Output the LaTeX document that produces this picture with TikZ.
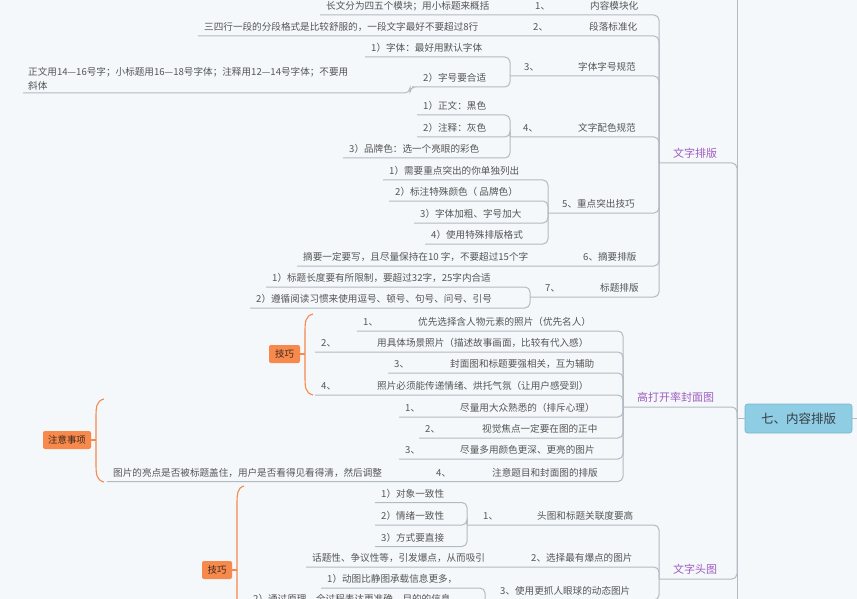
\documentclass[tikz,border=0pt]{standalone}
\usepackage{fontspec}
\newfontfamily\cjk{Noto Sans CJK SC}
\definecolor{bgc}{RGB}{244,248,251}
\definecolor{linec}{RGB}{178,186,194}
\definecolor{txt}{RGB}{85,85,85}
\definecolor{purp}{RGB}{160,92,190}
\definecolor{orng}{RGB}{246,137,75}
\definecolor{boxtxt}{RGB}{60,40,30}
\definecolor{rootfill}{RGB}{142,205,228}
\definecolor{rootdraw}{RGB}{118,182,208}
\definecolor{roottxt}{RGB}{55,60,65}
\newcommand\pfx[2]{\makebox[#1][l]{#2}}
\begin{document}
\begin{tikzpicture}[x=1pt,y=-1pt,
  t/.style={font=\cjk\fontsize{9.6}{11}\selectfont, text=txt, inner xsep=6pt, inner ysep=3.8pt, text height=8.4pt, text depth=1.2pt, anchor=south west},
  ttwo/.style={font=\cjk\fontsize{9.6}{14}\selectfont, text=txt, inner xsep=5pt, inner ysep=2.8pt, align=left, anchor=south west},
  lab/.style={font=\cjk\fontsize{11}{13}\selectfont, text=purp, inner xsep=6pt, inner ysep=3.8pt, text height=9.6pt, text depth=1.4pt, anchor=south west},
  conn/.style={draw=linec, line width=1pt, rounded corners=5pt},
  brace/.style={draw=orng, line width=1.1pt},
  sumbox/.style={fill=orng, rounded corners=2pt, font=\cjk\fontsize{9.4}{11}\selectfont, text=boxtxt, minimum height=18pt, inner sep=0pt},
  rootbox/.style={fill=rootfill, draw=rootdraw, line width=0.6pt, rounded corners=2.5pt, minimum width=107pt, minimum height=29pt, font=\cjk\fontsize{12.5}{14}\selectfont, text=roottxt}
]
\useasboundingbox (0,0) rectangle (857,599);
\clip (0,0) rectangle (857,599);
\fill[bgc] (0,0) rectangle (857,599);

% root
\coordinate (top) at (737,0);
\coordinate (bot) at (737,599);
\coordinate (rj) at (737,418.5);
\coordinate (rr) at (857,418.5);
\node[rootbox] (root) at (798.5,418.5) {七、内容排版};
\draw[conn] (top) -- (bot);
\draw[conn] (root.west) -- (rj);
\draw[conn] (root.east) -- (rr);

% ===== branch 1 =====
\coordinate (b1j) at (659,163);
\node[lab] (b1) at (667,163) {文字排版};
\draw[conn] (rj) |- (b1j);

\node[t] (c1) at (529,15) {\pfx{55pt}{1、}内容模块化};
\node[t] (g11) at (320,15) {长文分为四五个模块；用小标题来概括};
\draw[conn] (b1j) |- (g11.south west);

\node[t] (c2) at (527,36) {\pfx{56pt}{2、}段落标准化};
\node[t] (g21) at (198,36) {三四行一段的分段格式是比较舒服的，一段文字最好不要超过8行};
\draw[conn] (b1j) |- (g21.south west);

\coordinate (c3j) at (510,76);
\node[t] (c3) at (518,76) {\pfx{54pt}{3、}字体字号规范};
\node[t] (g31) at (365,57) {1）字体：最好用默认字体};
\node[t] (g32) at (417,87) {2）字号要合适};
\node[ttwo] (g321) at (23,93) {正文用14—16号字；小标题用16—18号字体；注释用12—14号字体；不要用\\斜体};
\draw[conn] (b1j) |- (c3j);
\draw[conn] (c3j) |- (g31.south west);
\draw[conn] (c3j) |- (g32.south west) -- ++(-7,0) |- (g321.south west);

\coordinate (c4j) at (510,137);
\node[t] (c4) at (517,137) {\pfx{55pt}{4、}文字配色规范};
\node[t] (g41) at (417,115) {1）正文：黑色};
\node[t] (g42) at (417,137) {2）注释：灰色};
\node[t] (g43) at (343,158) {3）品牌色：选一个亮眼的彩色};
\draw[conn] (b1j) |- (c4j);
\draw[conn] (c4j) |- (g41.south west);
\draw[conn] (c4j) |- (g42.south west);
\draw[conn] (c4j) |- (g43.south west);

\coordinate (c5j) at (548,213);
\node[t] (c5) at (556,213) {5、重点突出技巧};
\node[t] (g51) at (383,180) {1）需要重点突出的你单独列出};
\node[t] (g52) at (389,201) {2）标注特殊颜色（ 品牌色）};
\node[t] (g53) at (414,223) {3）字体加粗、字号加大};
\node[t] (g54) at (425,244) {4）使用特殊排版格式};
\draw[conn] (b1j) |- (c5j);
\draw[conn] (c5j) |- (g51.south west);
\draw[conn] (c5j) |- (g52.south west);
\draw[conn] (c5j) |- (g53.south west);
\draw[conn] (c5j) |- (g54.south west);

\node[t] (c6) at (577,266) {6、摘要排版};
\node[t] (g61) at (297,266) {摘要一定要写，且尽量保持在10 字，不要超过15个字};
\draw[conn] (b1j) |- (g61.south west);

\coordinate (c7j) at (530,297);
\node[t] (c7) at (539,297) {\pfx{55pt}{7、}标题排版};
\node[t] (g71) at (266,287) {1）标题长度要有所限制，要超过32字，25字内合适};
\node[t] (g72) at (250,308) {2）遵循阅读习惯来使用逗号、顿号、句号、问号、引号};
\draw[conn] (b1j) |- (c7j);
\draw[conn] (c7j) |- (g71.south west);
\draw[conn] (c7j) |- (g72.south west);

% ===== branch 2 =====
\coordinate (b2j) at (623,407);
\node[lab] (b2) at (631,407) {高打开率封面图};
\draw[conn] (rj) |- (b2j);

\node[t] (k1) at (357,331) {\pfx{55pt}{1、}优先选择含人物元素的照片（优先名人）};
\node[t] (k2) at (315,352) {\pfx{56pt}{2、}用具体场景照片（描述故事画面，比较有代入感）};
\node[t] (k3) at (388,373) {\pfx{56pt}{3、}封面图和标题要强相关，互为辅助};
\node[t] (k4) at (315,395) {\pfx{56pt}{4、}照片必须能传递情绪、烘托气氛（让用户感受到）};
\node[t] (k5) at (399,417) {\pfx{55pt}{1、}尽量用大众熟悉的（排斥心理）};
\node[t] (k6) at (419,438) {\pfx{57pt}{2、}视觉焦点一定要在图的正中};
\node[t] (k7) at (399,459) {\pfx{55pt}{3、}尽量多用颜色更深、更亮的图片};
\node[t] (k8) at (430,481.5) {\pfx{56pt}{4、}注意题目和封面图的排版};
\node[t] (k81) at (107,481.5) {图片的亮点是否被标题盖住，用户是否看得见看得清，然后调整};
\foreach \k in {k1,k2,k3,k4,k5,k6,k7,k81}{\draw[conn] (b2j) |- (\k.south west);}

% summaries
\node[sumbox, minimum width=31pt] (s1) at (284.5,354) {技巧};
\draw[brace] (313,314) .. controls (305,316) and (305,322) .. (305,334) -- (305,375) .. controls (305,387) and (305,393) .. (313,395);
\draw[brace] (s1.east) -- (305,354);

\node[sumbox, minimum width=48pt] (s2) at (67,440) {注意事项};
\draw[brace] (104,399) .. controls (96,401) and (96,407) .. (96,419) -- (96,462) .. controls (96,474) and (96,480) .. (104,482);
\draw[brace] (s2.east) -- (96,440);

\node[sumbox, minimum width=30pt] (s3) at (217,570) {技巧};
\draw[brace] (244,486) .. controls (237,488) and (237,494) .. (237,506) -- (237,640);
\draw[brace] (s3.east) -- (237,570);

% ===== branch 3 =====
\coordinate (b3j) at (659,579);
\node[lab] (b3) at (667,579) {文字头图};
\draw[conn] (rj) |- (b3j);

\coordinate (t1j) at (467,525);
\node[t] (t1) at (477,525) {\pfx{54pt}{1、}头图和标题关联度要高};
\node[t] (h1) at (375,502.5) {1）对象一致性};
\node[t] (h2) at (375,525) {2）情绪一致性};
\node[t] (h3) at (375,546.5) {3）方式要直接};
\draw[conn] (b3j) |- (t1j);
\draw[conn] (t1j) |- (h1.south west);
\draw[conn] (t1j) |- (h2.south west);
\draw[conn] (t1j) |- (h3.south west);

\node[t] (t2) at (525,567) {2、选择最有爆点的图片};
\node[t] (t21) at (306,567) {话题性、争议性等，引发爆点，从而吸引};
\draw[conn] (b3j) |- (t21.south west);

\coordinate (t3j) at (485,600);
\node[t] (t3) at (494,600) {3、使用更抓人眼球的动态图片};
\node[t] (u1) at (321,588) {1）动图比静图承载信息更多，};
\node[t] (u2) at (247,608) {2）通过原理、全过程表达更准确，目的的信息};
\draw[conn] (b3j) |- (t3j);
\draw[conn] (t3j) |- (u1.south west);
\draw[conn] (t3j) |- (u2.south west);
\end{tikzpicture}
\end{document}
